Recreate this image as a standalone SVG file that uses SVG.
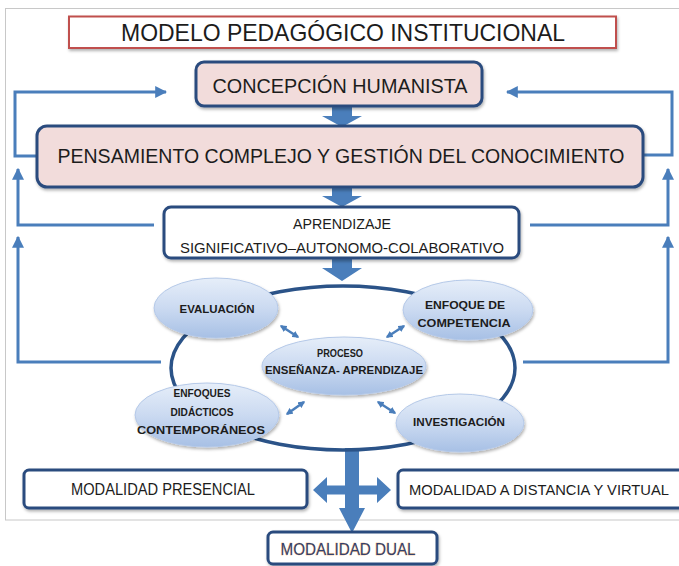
<svg xmlns="http://www.w3.org/2000/svg" width="679" height="566" viewBox="0 0 679 566">
<defs>
<style>
.t{font-family:"Liberation Sans",Arial,sans-serif;fill:#1c1c1c;text-anchor:middle}
.b{font-weight:bold;font-size:11px}
.box{stroke:#2b4c7e;stroke-width:3}
.pink{fill:#f2dcdb}
.wh{fill:#ffffff}
.fb{fill:none;stroke:#4a7ebb;stroke-width:3}
.blk{fill:#4a7ebb}
.sm{fill:none;stroke:#4a7ebb;stroke-width:2.5}
.el{fill:url(#eg);stroke:#b5c9e8;stroke-width:1}
</style>
<linearGradient id="eg" x1="0" y1="0" x2="0" y2="1">
<stop offset="0" stop-color="#e6eef9"/>
<stop offset="0.5" stop-color="#cbdaf1"/>
<stop offset="1" stop-color="#a7c0e5"/>
</linearGradient>
<filter id="sh" x="-20%" y="-20%" width="140%" height="150%">
<feDropShadow dx="1" dy="2" stdDeviation="1.8" flood-color="#000" flood-opacity="0.3"/>
</filter>
<marker id="ah" viewBox="0 0 10 10" refX="9" refY="5" markerWidth="12" markerHeight="12" markerUnits="userSpaceOnUse" orient="auto">
<path d="M0,0 L10,5 L0,10 Z" fill="#4a7ebb"/>
</marker>
<marker id="sa" viewBox="0 0 10 10" refX="8" refY="5" markerWidth="7" markerHeight="7" markerUnits="userSpaceOnUse" orient="auto-start-reverse">
<path d="M0,0 L10,5 L0,10 Z" fill="#4a7ebb"/>
</marker>
</defs>
<rect x="0" y="0" width="679" height="566" fill="#ffffff"/>
<rect x="5.5" y="8.5" width="690" height="511.5" fill="none" stroke="#c8c8c8" stroke-width="1"/>

<g id="connectors">
<path class="fb" d="M37,156 H15 V92 H166" marker-end="url(#ah)"/>
<path class="fb" d="M643,155 H672 V92 H507" marker-end="url(#ah)"/>
<path class="fb" d="M154,225 H18 V169" marker-end="url(#ah)"/>
<path class="fb" d="M530,225 H668 V169" marker-end="url(#ah)"/>
<path class="fb" d="M161,362 H18 V237" marker-end="url(#ah)"/>
<path class="fb" d="M523,362 H668 V237" marker-end="url(#ah)"/>
<path class="blk" d="M332,106 H352 V116 H362 L342,127 L322,116 H332 Z"/>
<path class="blk" d="M332,188 H352 V196 H362 L342,207 L322,196 H332 Z"/>
<path class="blk" d="M332,259 H352 V268 H362 L342,281 L322,268 H332 Z"/>
<path class="blk" d="M345,448 V508 H339 L352,533 L365,508 H359 V448 Z"/>
<path class="blk" d="M313,490 L327,477 V485.5 H377 V477 L391,490 L377,503 V494.5 H327 V503 Z"/>
<line class="sm" x1="281" y1="326" x2="298" y2="337" marker-start="url(#sa)" marker-end="url(#sa)"/>
<line class="sm" x1="387" y1="337" x2="404" y2="326" marker-start="url(#sa)" marker-end="url(#sa)"/>
<line class="sm" x1="287" y1="414" x2="304" y2="402" marker-start="url(#sa)" marker-end="url(#sa)"/>
<line class="sm" x1="378" y1="402" x2="395" y2="413" marker-start="url(#sa)" marker-end="url(#sa)"/>
</g>

<g id="title">
<rect x="69" y="16.5" width="547" height="31.5" fill="#fff" stroke="#c0504d" stroke-width="2" filter="url(#sh)"/>
<text class="t" x="343" y="41" font-size="24" textLength="444" lengthAdjust="spacingAndGlyphs">MODELO PEDAGÓGICO INSTITUCIONAL</text>
</g>

<g id="concepcion">
<rect class="box pink" x="196" y="62" width="286" height="44" rx="8" filter="url(#sh)"/>
<text class="t" x="340" y="93" font-size="20" textLength="255" lengthAdjust="spacingAndGlyphs">CONCEPCIÓN HUMANISTA</text>
</g>

<g id="pensamiento">
<rect class="box pink" x="37" y="126" width="606" height="61" rx="10" stroke-width="3.5" filter="url(#sh)"/>
<text class="t" x="341" y="163" font-size="21" textLength="567" lengthAdjust="spacingAndGlyphs">PENSAMIENTO COMPLEJO Y GESTIÓN DEL CONOCIMIENTO</text>
</g>

<g id="aprendizaje">
<rect class="box wh" x="164" y="207" width="355" height="51" rx="7" filter="url(#sh)"/>
<text class="t" x="342" y="229" font-size="14" textLength="98" lengthAdjust="spacingAndGlyphs">APRENDIZAJE</text>
<text class="t" x="342" y="253" font-size="14" textLength="324" lengthAdjust="spacingAndGlyphs">SIGNIFICATIVO–AUTONOMO-COLABORATIVO</text>
</g>

<g id="ring">
<ellipse cx="343" cy="368" rx="172" ry="82" fill="none" stroke="#2b5388" stroke-width="3.5"/>
</g>

<g id="evaluacion">
<ellipse class="el" cx="216" cy="308" rx="62" ry="30" filter="url(#sh)"/>
<text class="t b" x="217" y="313" textLength="75" lengthAdjust="spacingAndGlyphs">EVALUACIÓN</text>
</g>

<g id="enfoque-competencia">
<ellipse class="el" cx="468" cy="310" rx="65" ry="30" filter="url(#sh)"/>
<text class="t b" x="465" y="309" textLength="80" lengthAdjust="spacingAndGlyphs">ENFOQUE DE</text>
<text class="t b" x="464" y="327" textLength="93" lengthAdjust="spacingAndGlyphs">COMPETENCIA</text>
</g>

<g id="proceso">
<ellipse class="el" cx="344" cy="366" rx="82" ry="29" filter="url(#sh)"/>
<text class="t b" x="340" y="357" textLength="46" lengthAdjust="spacingAndGlyphs">PROCESO</text>
<text class="t b" x="344" y="374" textLength="158" lengthAdjust="spacingAndGlyphs">ENSEÑANZA- APRENDIZAJE</text>
</g>

<g id="enfoques-didacticos">
<ellipse class="el" cx="207" cy="415" rx="72" ry="32" filter="url(#sh)"/>
<text class="t b" x="202" y="397" textLength="57" lengthAdjust="spacingAndGlyphs">ENFOQUES</text>
<text class="t b" x="202" y="416" textLength="63" lengthAdjust="spacingAndGlyphs">DIDÁCTICOS</text>
<text class="t b" x="201" y="434" textLength="128" lengthAdjust="spacingAndGlyphs">CONTEMPORÁNEOS</text>
</g>

<g id="investigacion">
<ellipse class="el" cx="460" cy="423" rx="64" ry="29" filter="url(#sh)"/>
<text class="t b" x="459" y="426" textLength="92" lengthAdjust="spacingAndGlyphs">INVESTIGACIÓN</text>
</g>

<g id="presencial">
<rect class="box wh" x="24" y="470" width="283" height="38" rx="5" filter="url(#sh)"/>
<text class="t" x="163" y="495" font-size="16" textLength="184" lengthAdjust="spacingAndGlyphs">MODALIDAD PRESENCIAL</text>
</g>

<g id="distancia">
<rect class="box wh" x="398" y="470" width="300" height="38" rx="5" filter="url(#sh)"/>
<text class="t" x="539" y="495" font-size="15" textLength="260" lengthAdjust="spacingAndGlyphs">MODALIDAD A DISTANCIA Y VIRTUAL</text>
</g>

<g id="dual">
<rect class="box wh" x="268" y="532" width="169" height="32" rx="5" filter="url(#sh)"/>
<text class="t" x="348" y="555" font-size="16" textLength="135" lengthAdjust="spacingAndGlyphs" style="fill:#33416e;stroke:#f0a54a;stroke-width:0.5;paint-order:stroke">MODALIDAD DUAL</text>
</g>
</svg>
